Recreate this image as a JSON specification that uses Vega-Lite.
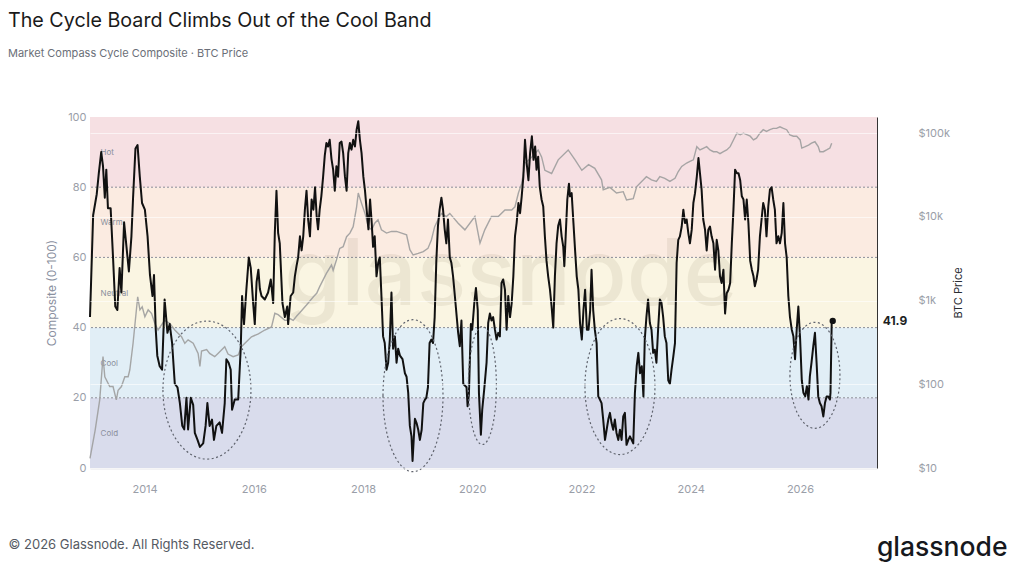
{
  "$schema": "https://vega.github.io/schema/vega-lite/v6.json",
  "width": 787,
  "height": 351,
  "autosize": "none",
  "padding": {"left": 90, "top": 117, "right": 137, "bottom": 97},
  "background": "#ffffff",
  "title": {
    "text": "The Cycle Board Climbs Out of the Cool Band",
    "subtitle": "Market Compass Cycle Composite · BTC Price",
    "anchor": "start",
    "frame": "group",
    "dx": -82,
    "offset": 52,
    "font": "Inter",
    "fontSize": 19.7,
    "fontWeight": 400,
    "color": "#1a1a1a",
    "subtitleFont": "Inter",
    "subtitleFontSize": 11,
    "subtitleColor": "#6b6f78",
    "subtitlePadding": 17
  },
  "datasets": {
    "bands": [
      {"band": "Cold", "lo": 0, "hi": 20},
      {"band": "Cool", "lo": 20, "hi": 40},
      {"band": "Neutral", "lo": 40, "hi": 60},
      {"band": "Warm", "lo": 60, "hi": 80},
      {"band": "Hot", "lo": 80, "hi": 100}
    ],
    "zones": [
      {"zone": "2015", "date": "2015-02-22", "score": 22.2},
      {"zone": "2018", "date": "2018-12-01", "score": 20.6},
      {"zone": "2020", "date": "2020-03-09", "score": 23.5},
      {"zone": "2022", "date": "2022-09-15", "score": 23.2},
      {"zone": "2026", "date": "2026-04-11", "score": 26.4}
    ],
    "latest": [
      {"date": "2026-08-08", "score": 41.9}
    ],
    "composite": [
      {"date": "2013-01-01", "score": 43},
      {"date": "2013-01-22", "score": 72},
      {"date": "2013-02-15", "score": 78},
      {"date": "2013-03-01", "score": 84},
      {"date": "2013-03-17", "score": 90},
      {"date": "2013-03-29", "score": 86},
      {"date": "2013-04-10", "score": 77},
      {"date": "2013-04-20", "score": 85},
      {"date": "2013-05-01", "score": 74},
      {"date": "2013-05-19", "score": 74},
      {"date": "2013-06-04", "score": 60},
      {"date": "2013-06-19", "score": 46},
      {"date": "2013-07-03", "score": 45},
      {"date": "2013-07-18", "score": 57},
      {"date": "2013-07-30", "score": 50},
      {"date": "2013-08-17", "score": 70},
      {"date": "2013-09-02", "score": 63},
      {"date": "2013-09-18", "score": 56},
      {"date": "2013-10-05", "score": 66},
      {"date": "2013-10-16", "score": 77},
      {"date": "2013-11-01", "score": 91},
      {"date": "2013-11-15", "score": 92},
      {"date": "2013-11-30", "score": 83},
      {"date": "2013-12-15", "score": 75.5},
      {"date": "2014-01-03", "score": 73.6},
      {"date": "2014-01-21", "score": 66},
      {"date": "2014-02-06", "score": 55},
      {"date": "2014-02-23", "score": 49},
      {"date": "2014-03-05", "score": 55},
      {"date": "2014-03-16", "score": 40},
      {"date": "2014-03-27", "score": 32},
      {"date": "2014-04-12", "score": 29},
      {"date": "2014-04-28", "score": 28},
      {"date": "2014-05-15", "score": 48},
      {"date": "2014-06-03", "score": 38.5},
      {"date": "2014-06-18", "score": 41},
      {"date": "2014-07-04", "score": 35.6},
      {"date": "2014-07-22", "score": 24},
      {"date": "2014-08-09", "score": 23},
      {"date": "2014-08-25", "score": 18.5},
      {"date": "2014-09-10", "score": 12},
      {"date": "2014-09-23", "score": 11},
      {"date": "2014-10-08", "score": 20},
      {"date": "2014-10-19", "score": 11},
      {"date": "2014-11-06", "score": 20},
      {"date": "2014-11-22", "score": 18},
      {"date": "2014-12-03", "score": 10},
      {"date": "2014-12-21", "score": 8},
      {"date": "2015-01-06", "score": 6},
      {"date": "2015-01-28", "score": 7},
      {"date": "2015-02-13", "score": 12},
      {"date": "2015-02-25", "score": 18.5},
      {"date": "2015-03-12", "score": 12},
      {"date": "2015-03-28", "score": 13.8},
      {"date": "2015-04-10", "score": 8},
      {"date": "2015-04-26", "score": 12},
      {"date": "2015-05-18", "score": 13},
      {"date": "2015-06-03", "score": 10},
      {"date": "2015-06-21", "score": 18.5},
      {"date": "2015-07-02", "score": 31},
      {"date": "2015-07-17", "score": 30},
      {"date": "2015-07-31", "score": 28},
      {"date": "2015-08-09", "score": 16.6},
      {"date": "2015-08-27", "score": 19.5},
      {"date": "2015-09-19", "score": 19.5},
      {"date": "2015-10-06", "score": 34},
      {"date": "2015-10-15", "score": 49},
      {"date": "2015-10-28", "score": 41},
      {"date": "2015-11-13", "score": 51},
      {"date": "2015-11-29", "score": 60},
      {"date": "2015-12-12", "score": 57},
      {"date": "2015-12-28", "score": 47},
      {"date": "2016-01-08", "score": 41},
      {"date": "2016-01-20", "score": 53},
      {"date": "2016-02-01", "score": 56.5},
      {"date": "2016-02-11", "score": 51},
      {"date": "2016-02-22", "score": 49},
      {"date": "2016-03-15", "score": 48},
      {"date": "2016-04-06", "score": 50},
      {"date": "2016-04-24", "score": 53.7},
      {"date": "2016-05-10", "score": 47},
      {"date": "2016-05-21", "score": 67},
      {"date": "2016-06-01", "score": 79},
      {"date": "2016-06-12", "score": 67},
      {"date": "2016-06-23", "score": 64},
      {"date": "2016-07-11", "score": 47},
      {"date": "2016-07-27", "score": 43},
      {"date": "2016-08-12", "score": 46},
      {"date": "2016-08-18", "score": 41},
      {"date": "2016-09-04", "score": 49},
      {"date": "2016-09-21", "score": 50},
      {"date": "2016-10-02", "score": 54.6},
      {"date": "2016-10-13", "score": 57.5},
      {"date": "2016-10-24", "score": 60},
      {"date": "2016-11-05", "score": 66},
      {"date": "2016-11-16", "score": 62},
      {"date": "2016-11-27", "score": 66},
      {"date": "2016-12-08", "score": 73.6},
      {"date": "2016-12-19", "score": 79},
      {"date": "2016-12-30", "score": 70.7},
      {"date": "2017-01-11", "score": 66},
      {"date": "2017-01-22", "score": 76.5},
      {"date": "2017-02-03", "score": 73.6},
      {"date": "2017-02-14", "score": 80},
      {"date": "2017-02-25", "score": 71.6},
      {"date": "2017-03-06", "score": 68},
      {"date": "2017-03-17", "score": 73.6},
      {"date": "2017-03-28", "score": 77.4},
      {"date": "2017-04-09", "score": 83},
      {"date": "2017-04-20", "score": 89},
      {"date": "2017-05-01", "score": 92.6},
      {"date": "2017-05-12", "score": 91.6},
      {"date": "2017-05-23", "score": 93.5},
      {"date": "2017-06-04", "score": 88},
      {"date": "2017-06-15", "score": 85},
      {"date": "2017-06-26", "score": 79},
      {"date": "2017-07-07", "score": 86},
      {"date": "2017-07-18", "score": 83},
      {"date": "2017-07-29", "score": 92.6},
      {"date": "2017-08-10", "score": 93},
      {"date": "2017-08-21", "score": 89.7},
      {"date": "2017-09-02", "score": 83},
      {"date": "2017-09-13", "score": 79},
      {"date": "2017-09-24", "score": 89.7},
      {"date": "2017-10-05", "score": 92.6},
      {"date": "2017-10-16", "score": 90.7},
      {"date": "2017-10-27", "score": 93.5},
      {"date": "2017-11-08", "score": 91.6},
      {"date": "2017-11-19", "score": 96.4},
      {"date": "2017-11-30", "score": 98.8},
      {"date": "2017-12-11", "score": 93.5},
      {"date": "2017-12-22", "score": 89.7},
      {"date": "2018-01-03", "score": 83},
      {"date": "2018-01-14", "score": 79},
      {"date": "2018-01-25", "score": 73.6},
      {"date": "2018-02-06", "score": 68},
      {"date": "2018-02-17", "score": 76.5},
      {"date": "2018-02-28", "score": 69.8},
      {"date": "2018-03-09", "score": 63},
      {"date": "2018-03-20", "score": 66},
      {"date": "2018-04-01", "score": 54.6},
      {"date": "2018-04-12", "score": 58.4},
      {"date": "2018-04-23", "score": 60},
      {"date": "2018-05-04", "score": 49},
      {"date": "2018-05-15", "score": 37.5},
      {"date": "2018-05-26", "score": 35.6},
      {"date": "2018-06-07", "score": 28},
      {"date": "2018-06-18", "score": 30},
      {"date": "2018-06-29", "score": 36.6},
      {"date": "2018-07-10", "score": 50},
      {"date": "2018-07-21", "score": 34},
      {"date": "2018-08-02", "score": 37.5},
      {"date": "2018-08-13", "score": 30},
      {"date": "2018-08-24", "score": 34},
      {"date": "2018-09-05", "score": 32},
      {"date": "2018-09-22", "score": 31},
      {"date": "2018-10-08", "score": 27},
      {"date": "2018-10-19", "score": 26},
      {"date": "2018-10-30", "score": 21.4},
      {"date": "2018-11-10", "score": 12},
      {"date": "2018-11-21", "score": 9},
      {"date": "2018-11-28", "score": 2},
      {"date": "2018-12-07", "score": 9},
      {"date": "2018-12-14", "score": 14},
      {"date": "2018-12-25", "score": 12.8},
      {"date": "2019-01-05", "score": 10.9},
      {"date": "2019-01-16", "score": 8},
      {"date": "2019-01-28", "score": 10.9},
      {"date": "2019-02-08", "score": 18.5},
      {"date": "2019-02-19", "score": 19.5},
      {"date": "2019-02-28", "score": 20},
      {"date": "2019-03-11", "score": 23},
      {"date": "2019-03-22", "score": 35.6},
      {"date": "2019-04-03", "score": 36.6},
      {"date": "2019-04-14", "score": 35.6},
      {"date": "2019-04-25", "score": 43},
      {"date": "2019-05-06", "score": 59},
      {"date": "2019-05-17", "score": 69},
      {"date": "2019-05-28", "score": 73.6},
      {"date": "2019-06-09", "score": 77},
      {"date": "2019-06-20", "score": 73.6},
      {"date": "2019-07-01", "score": 68},
      {"date": "2019-07-12", "score": 64},
      {"date": "2019-07-23", "score": 70.8},
      {"date": "2019-08-04", "score": 60},
      {"date": "2019-08-15", "score": 58.4},
      {"date": "2019-08-26", "score": 54.6},
      {"date": "2019-09-07", "score": 49},
      {"date": "2019-09-29", "score": 38.5},
      {"date": "2019-10-10", "score": 34.7},
      {"date": "2019-10-21", "score": 42},
      {"date": "2019-11-02", "score": 24},
      {"date": "2019-11-24", "score": 23},
      {"date": "2019-12-01", "score": 17.6},
      {"date": "2019-12-10", "score": 21},
      {"date": "2019-12-23", "score": 41},
      {"date": "2020-01-01", "score": 39.4},
      {"date": "2020-01-15", "score": 47},
      {"date": "2020-01-26", "score": 51.3},
      {"date": "2020-02-07", "score": 45},
      {"date": "2020-02-15", "score": 21.4},
      {"date": "2020-02-28", "score": 9.5},
      {"date": "2020-03-08", "score": 16.6},
      {"date": "2020-03-21", "score": 22.3},
      {"date": "2020-04-06", "score": 30},
      {"date": "2020-04-17", "score": 41.3},
      {"date": "2020-04-28", "score": 44},
      {"date": "2020-05-09", "score": 42},
      {"date": "2020-05-20", "score": 43},
      {"date": "2020-06-01", "score": 39.4},
      {"date": "2020-06-12", "score": 36.6},
      {"date": "2020-06-23", "score": 38.5},
      {"date": "2020-07-04", "score": 37.5},
      {"date": "2020-07-15", "score": 52.7},
      {"date": "2020-07-26", "score": 53.7},
      {"date": "2020-08-07", "score": 50.8},
      {"date": "2020-08-18", "score": 39.4},
      {"date": "2020-08-29", "score": 49},
      {"date": "2020-09-10", "score": 43},
      {"date": "2020-09-21", "score": 47},
      {"date": "2020-10-02", "score": 54.6},
      {"date": "2020-10-13", "score": 66},
      {"date": "2020-10-24", "score": 69.8},
      {"date": "2020-11-05", "score": 75.5},
      {"date": "2020-11-16", "score": 72.6},
      {"date": "2020-11-27", "score": 77.4},
      {"date": "2020-12-08", "score": 83},
      {"date": "2020-12-19", "score": 93.5},
      {"date": "2020-12-30", "score": 86.9},
      {"date": "2021-01-11", "score": 82},
      {"date": "2021-01-22", "score": 89.7},
      {"date": "2021-02-03", "score": 94.5},
      {"date": "2021-02-14", "score": 87.8},
      {"date": "2021-02-25", "score": 91.6},
      {"date": "2021-03-06", "score": 85},
      {"date": "2021-03-17", "score": 88.7},
      {"date": "2021-03-28", "score": 80},
      {"date": "2021-04-09", "score": 76.5},
      {"date": "2021-04-20", "score": 74.5},
      {"date": "2021-05-01", "score": 66},
      {"date": "2021-05-12", "score": 59},
      {"date": "2021-05-23", "score": 54.6},
      {"date": "2021-06-04", "score": 50.8},
      {"date": "2021-06-15", "score": 46},
      {"date": "2021-06-26", "score": 40},
      {"date": "2021-07-07", "score": 54.6},
      {"date": "2021-07-18", "score": 64},
      {"date": "2021-07-29", "score": 69},
      {"date": "2021-08-10", "score": 70.8},
      {"date": "2021-08-21", "score": 66},
      {"date": "2021-09-01", "score": 63},
      {"date": "2021-09-08", "score": 57.5},
      {"date": "2021-09-17", "score": 66},
      {"date": "2021-09-28", "score": 76.5},
      {"date": "2021-10-09", "score": 81},
      {"date": "2021-10-16", "score": 77.4},
      {"date": "2021-10-27", "score": 78.3},
      {"date": "2021-11-08", "score": 69.8},
      {"date": "2021-11-19", "score": 62},
      {"date": "2021-11-30", "score": 54.6},
      {"date": "2021-12-11", "score": 50.8},
      {"date": "2021-12-22", "score": 41.3},
      {"date": "2022-01-03", "score": 36.6},
      {"date": "2022-01-14", "score": 45},
      {"date": "2022-01-25", "score": 50.8},
      {"date": "2022-02-06", "score": 39.4},
      {"date": "2022-02-17", "score": 39.4},
      {"date": "2022-02-28", "score": 45},
      {"date": "2022-03-09", "score": 56.5},
      {"date": "2022-03-20", "score": 45},
      {"date": "2022-03-31", "score": 39.4},
      {"date": "2022-04-12", "score": 35.6},
      {"date": "2022-04-23", "score": 20.4},
      {"date": "2022-05-04", "score": 19.5},
      {"date": "2022-05-15", "score": 18.5},
      {"date": "2022-05-26", "score": 13.8},
      {"date": "2022-06-07", "score": 8},
      {"date": "2022-06-18", "score": 10.9},
      {"date": "2022-06-29", "score": 13.8},
      {"date": "2022-07-10", "score": 15.7},
      {"date": "2022-07-21", "score": 12.8},
      {"date": "2022-08-01", "score": 10.9},
      {"date": "2022-08-12", "score": 13.8},
      {"date": "2022-08-23", "score": 10},
      {"date": "2022-09-04", "score": 8},
      {"date": "2022-09-15", "score": 10.9},
      {"date": "2022-09-26", "score": 8},
      {"date": "2022-10-07", "score": 14.7},
      {"date": "2022-10-18", "score": 15.7},
      {"date": "2022-10-29", "score": 6.6},
      {"date": "2022-11-10", "score": 8},
      {"date": "2022-11-21", "score": 9},
      {"date": "2022-12-02", "score": 8},
      {"date": "2022-12-13", "score": 7},
      {"date": "2022-12-24", "score": 21.4},
      {"date": "2023-01-05", "score": 29},
      {"date": "2023-01-16", "score": 32.8},
      {"date": "2023-01-27", "score": 27},
      {"date": "2023-02-08", "score": 29},
      {"date": "2023-02-19", "score": 20.4},
      {"date": "2023-02-28", "score": 36.6},
      {"date": "2023-03-11", "score": 43},
      {"date": "2023-03-22", "score": 48},
      {"date": "2023-04-03", "score": 41.3},
      {"date": "2023-04-14", "score": 39.4},
      {"date": "2023-04-25", "score": 32.8},
      {"date": "2023-05-06", "score": 33.7},
      {"date": "2023-05-17", "score": 30},
      {"date": "2023-05-28", "score": 39.4},
      {"date": "2023-06-09", "score": 48},
      {"date": "2023-06-20", "score": 47},
      {"date": "2023-07-01", "score": 43},
      {"date": "2023-07-12", "score": 37.5},
      {"date": "2023-07-23", "score": 35.6},
      {"date": "2023-08-04", "score": 25},
      {"date": "2023-08-15", "score": 24},
      {"date": "2023-08-26", "score": 28},
      {"date": "2023-09-07", "score": 31.8},
      {"date": "2023-09-18", "score": 35.6},
      {"date": "2023-09-29", "score": 58.4},
      {"date": "2023-10-10", "score": 65},
      {"date": "2023-10-21", "score": 66},
      {"date": "2023-11-02", "score": 68.8},
      {"date": "2023-11-13", "score": 73.6},
      {"date": "2023-11-24", "score": 69.8},
      {"date": "2023-12-05", "score": 70.8},
      {"date": "2023-12-16", "score": 67},
      {"date": "2023-12-27", "score": 64},
      {"date": "2024-01-08", "score": 67.9},
      {"date": "2024-01-19", "score": 75.5},
      {"date": "2024-01-30", "score": 78.3},
      {"date": "2024-02-11", "score": 83},
      {"date": "2024-02-22", "score": 88.3},
      {"date": "2024-03-03", "score": 84},
      {"date": "2024-03-14", "score": 79.3},
      {"date": "2024-03-25", "score": 70.8},
      {"date": "2024-04-06", "score": 67.9},
      {"date": "2024-04-17", "score": 62},
      {"date": "2024-04-28", "score": 67.9},
      {"date": "2024-05-09", "score": 68.8},
      {"date": "2024-05-20", "score": 66},
      {"date": "2024-06-01", "score": 64},
      {"date": "2024-06-12", "score": 56.5},
      {"date": "2024-06-23", "score": 65},
      {"date": "2024-07-04", "score": 62},
      {"date": "2024-07-15", "score": 54.6},
      {"date": "2024-07-26", "score": 52.7},
      {"date": "2024-08-07", "score": 56.5},
      {"date": "2024-08-18", "score": 44},
      {"date": "2024-08-29", "score": 49.8},
      {"date": "2024-09-10", "score": 50.8},
      {"date": "2024-09-21", "score": 52.7},
      {"date": "2024-10-02", "score": 64},
      {"date": "2024-10-13", "score": 73.6},
      {"date": "2024-10-24", "score": 85},
      {"date": "2024-11-05", "score": 84},
      {"date": "2024-11-16", "score": 84},
      {"date": "2024-11-27", "score": 82},
      {"date": "2024-12-08", "score": 77.4},
      {"date": "2024-12-19", "score": 76.5},
      {"date": "2024-12-30", "score": 70.8},
      {"date": "2025-01-10", "score": 76.5},
      {"date": "2025-01-21", "score": 69.8},
      {"date": "2025-02-02", "score": 59},
      {"date": "2025-02-13", "score": 56.5},
      {"date": "2025-02-24", "score": 54.6},
      {"date": "2025-03-05", "score": 51.8},
      {"date": "2025-03-16", "score": 53.7},
      {"date": "2025-03-27", "score": 56.5},
      {"date": "2025-04-08", "score": 66},
      {"date": "2025-04-19", "score": 70.8},
      {"date": "2025-04-30", "score": 75.5},
      {"date": "2025-05-11", "score": 73.6},
      {"date": "2025-05-22", "score": 66},
      {"date": "2025-06-03", "score": 74.5},
      {"date": "2025-06-14", "score": 79.3},
      {"date": "2025-06-25", "score": 80},
      {"date": "2025-07-06", "score": 76.5},
      {"date": "2025-07-17", "score": 73.6},
      {"date": "2025-07-28", "score": 64},
      {"date": "2025-08-09", "score": 66},
      {"date": "2025-08-20", "score": 64},
      {"date": "2025-09-01", "score": 67},
      {"date": "2025-09-12", "score": 75.5},
      {"date": "2025-09-23", "score": 64},
      {"date": "2025-10-04", "score": 60},
      {"date": "2025-10-15", "score": 49},
      {"date": "2025-10-26", "score": 43},
      {"date": "2025-11-07", "score": 39.4},
      {"date": "2025-11-18", "score": 37.5},
      {"date": "2025-11-29", "score": 31},
      {"date": "2025-12-10", "score": 39.4},
      {"date": "2025-12-21", "score": 46},
      {"date": "2026-01-02", "score": 36.6},
      {"date": "2026-01-13", "score": 25},
      {"date": "2026-01-24", "score": 21.4},
      {"date": "2026-02-05", "score": 20.4},
      {"date": "2026-02-16", "score": 23.3},
      {"date": "2026-02-27", "score": 19.5},
      {"date": "2026-03-08", "score": 26.1},
      {"date": "2026-03-19", "score": 30},
      {"date": "2026-03-31", "score": 34.7},
      {"date": "2026-04-11", "score": 38.5},
      {"date": "2026-04-22", "score": 30},
      {"date": "2026-05-03", "score": 20.4},
      {"date": "2026-05-14", "score": 18.5},
      {"date": "2026-05-25", "score": 17.6},
      {"date": "2026-06-06", "score": 14.7},
      {"date": "2026-06-17", "score": 18.5},
      {"date": "2026-06-28", "score": 20.4},
      {"date": "2026-07-09", "score": 20.4},
      {"date": "2026-07-20", "score": 19.5},
      {"date": "2026-07-24", "score": 21.4},
      {"date": "2026-08-01", "score": 41.3},
      {"date": "2026-08-08", "score": 41.9}
    ],
    "btc": [
      {"date": "2013-01-01", "price": 13},
      {"date": "2013-02-04", "price": 28},
      {"date": "2013-03-07", "price": 65},
      {"date": "2013-03-29", "price": 214},
      {"date": "2013-04-10", "price": 123},
      {"date": "2013-05-13", "price": 94},
      {"date": "2013-06-04", "price": 94},
      {"date": "2013-06-26", "price": 65},
      {"date": "2013-07-08", "price": 85},
      {"date": "2013-07-30", "price": 94},
      {"date": "2013-08-22", "price": 123},
      {"date": "2013-09-13", "price": 123},
      {"date": "2013-09-24", "price": 148},
      {"date": "2013-10-16", "price": 309},
      {"date": "2013-11-16", "price": 1110},
      {"date": "2013-12-01", "price": 775},
      {"date": "2013-12-16", "price": 840},
      {"date": "2014-01-03", "price": 640},
      {"date": "2014-01-25", "price": 775},
      {"date": "2014-02-17", "price": 700},
      {"date": "2014-03-10", "price": 535},
      {"date": "2014-04-01", "price": 445},
      {"date": "2014-05-15", "price": 580},
      {"date": "2014-06-18", "price": 535},
      {"date": "2014-07-22", "price": 445},
      {"date": "2014-09-05", "price": 370},
      {"date": "2014-09-27", "price": 309},
      {"date": "2014-10-19", "price": 340},
      {"date": "2014-11-22", "price": 309},
      {"date": "2014-12-25", "price": 234},
      {"date": "2015-01-06", "price": 163},
      {"date": "2015-01-17", "price": 250},
      {"date": "2015-02-20", "price": 260},
      {"date": "2015-03-12", "price": 234},
      {"date": "2015-04-15", "price": 214},
      {"date": "2015-05-07", "price": 234},
      {"date": "2015-06-21", "price": 281},
      {"date": "2015-07-13", "price": 230},
      {"date": "2015-08-16", "price": 214},
      {"date": "2015-09-19", "price": 224},
      {"date": "2015-10-11", "price": 281},
      {"date": "2015-11-03", "price": 309},
      {"date": "2015-12-17", "price": 370},
      {"date": "2016-02-01", "price": 400},
      {"date": "2016-03-15", "price": 445},
      {"date": "2016-04-29", "price": 485},
      {"date": "2016-05-21", "price": 705},
      {"date": "2016-06-12", "price": 680},
      {"date": "2016-07-27", "price": 580},
      {"date": "2016-08-07", "price": 580},
      {"date": "2016-08-30", "price": 610},
      {"date": "2016-09-21", "price": 580},
      {"date": "2016-10-13", "price": 650},
      {"date": "2016-11-05", "price": 720},
      {"date": "2016-12-19", "price": 885},
      {"date": "2017-02-03", "price": 1110},
      {"date": "2017-02-25", "price": 1220},
      {"date": "2017-03-17", "price": 1466},
      {"date": "2017-05-01", "price": 2110},
      {"date": "2017-06-04", "price": 2660},
      {"date": "2017-06-15", "price": 2300},
      {"date": "2017-07-07", "price": 3050},
      {"date": "2017-07-29", "price": 4200},
      {"date": "2017-08-21", "price": 4400},
      {"date": "2017-09-13", "price": 5800},
      {"date": "2017-10-05", "price": 6400},
      {"date": "2017-10-27", "price": 7640},
      {"date": "2017-11-19", "price": 13200},
      {"date": "2017-11-30", "price": 19300},
      {"date": "2017-12-22", "price": 14500},
      {"date": "2018-01-14", "price": 11000},
      {"date": "2018-02-05", "price": 7640},
      {"date": "2018-02-28", "price": 7000},
      {"date": "2018-03-20", "price": 8400},
      {"date": "2018-04-11", "price": 9220},
      {"date": "2018-05-04", "price": 7000},
      {"date": "2018-06-07", "price": 6400},
      {"date": "2018-07-10", "price": 6700},
      {"date": "2018-08-13", "price": 6700},
      {"date": "2018-09-16", "price": 6400},
      {"date": "2018-10-19", "price": 6100},
      {"date": "2018-11-10", "price": 4050},
      {"date": "2018-12-02", "price": 3500},
      {"date": "2019-01-05", "price": 3660},
      {"date": "2019-02-08", "price": 3850},
      {"date": "2019-03-11", "price": 4200},
      {"date": "2019-04-03", "price": 5300},
      {"date": "2019-04-25", "price": 7640},
      {"date": "2019-05-17", "price": 9220},
      {"date": "2019-06-09", "price": 11000},
      {"date": "2019-07-12", "price": 10100},
      {"date": "2019-08-04", "price": 11000},
      {"date": "2019-09-29", "price": 8400},
      {"date": "2019-11-13", "price": 7000},
      {"date": "2020-01-19", "price": 10100},
      {"date": "2020-02-22", "price": 4860},
      {"date": "2020-03-25", "price": 7000},
      {"date": "2020-05-09", "price": 10100},
      {"date": "2020-06-23", "price": 10100},
      {"date": "2020-08-07", "price": 12100},
      {"date": "2020-09-21", "price": 12100},
      {"date": "2020-10-13", "price": 13200},
      {"date": "2020-11-05", "price": 19300},
      {"date": "2020-11-27", "price": 25100},
      {"date": "2020-12-19", "price": 43700},
      {"date": "2021-02-03", "price": 52000},
      {"date": "2021-03-17", "price": 63000},
      {"date": "2021-04-09", "price": 52000},
      {"date": "2021-05-01", "price": 36000},
      {"date": "2021-06-15", "price": 33000},
      {"date": "2021-07-29", "price": 48000},
      {"date": "2021-10-04", "price": 63000},
      {"date": "2021-11-19", "price": 48000},
      {"date": "2022-01-03", "price": 36000},
      {"date": "2022-02-17", "price": 42000},
      {"date": "2022-03-31", "price": 38000},
      {"date": "2022-05-15", "price": 27700},
      {"date": "2022-05-26", "price": 21100},
      {"date": "2022-07-10", "price": 22500},
      {"date": "2022-08-23", "price": 19300},
      {"date": "2022-10-07", "price": 20000},
      {"date": "2022-10-29", "price": 15900},
      {"date": "2022-12-13", "price": 16500},
      {"date": "2023-01-05", "price": 23000},
      {"date": "2023-02-19", "price": 27700},
      {"date": "2023-03-11", "price": 30200},
      {"date": "2023-04-14", "price": 27700},
      {"date": "2023-05-17", "price": 26500},
      {"date": "2023-06-09", "price": 30200},
      {"date": "2023-07-12", "price": 28900},
      {"date": "2023-08-15", "price": 26500},
      {"date": "2023-09-18", "price": 28900},
      {"date": "2023-10-10", "price": 34800},
      {"date": "2023-11-02", "price": 40000},
      {"date": "2023-12-05", "price": 44000},
      {"date": "2023-12-27", "price": 46000},
      {"date": "2024-01-19", "price": 48000},
      {"date": "2024-02-11", "price": 69000},
      {"date": "2024-03-03", "price": 63000},
      {"date": "2024-03-25", "price": 66000},
      {"date": "2024-04-17", "price": 69000},
      {"date": "2024-05-09", "price": 63000},
      {"date": "2024-06-01", "price": 60000},
      {"date": "2024-06-23", "price": 60000},
      {"date": "2024-07-15", "price": 57000},
      {"date": "2024-08-07", "price": 60000},
      {"date": "2024-08-29", "price": 63000},
      {"date": "2024-09-21", "price": 69000},
      {"date": "2024-10-13", "price": 83000},
      {"date": "2024-11-05", "price": 100000},
      {"date": "2024-11-27", "price": 96000},
      {"date": "2024-12-19", "price": 100000},
      {"date": "2025-01-10", "price": 96000},
      {"date": "2025-02-02", "price": 92000},
      {"date": "2025-02-24", "price": 83000},
      {"date": "2025-03-16", "price": 87000},
      {"date": "2025-04-08", "price": 100000},
      {"date": "2025-04-30", "price": 110000},
      {"date": "2025-05-22", "price": 105000},
      {"date": "2025-06-14", "price": 110000},
      {"date": "2025-07-06", "price": 114000},
      {"date": "2025-07-28", "price": 114000},
      {"date": "2025-08-20", "price": 119000},
      {"date": "2025-09-12", "price": 114000},
      {"date": "2025-10-04", "price": 110000},
      {"date": "2025-10-26", "price": 95000},
      {"date": "2025-11-18", "price": 92000},
      {"date": "2025-12-10", "price": 92000},
      {"date": "2026-01-02", "price": 83000},
      {"date": "2026-01-13", "price": 66400},
      {"date": "2026-02-05", "price": 69000},
      {"date": "2026-02-27", "price": 72000},
      {"date": "2026-03-19", "price": 76000},
      {"date": "2026-04-11", "price": 79000},
      {"date": "2026-05-03", "price": 69000},
      {"date": "2026-05-14", "price": 60000},
      {"date": "2026-06-06", "price": 60000},
      {"date": "2026-06-28", "price": 63000},
      {"date": "2026-07-20", "price": 66400},
      {"date": "2026-08-01", "price": 76000}
    ]
  },
  "layer": [
    {
      "layer": [
        {
          "data": {"name": "bands"},
          "mark": {"type": "rect", "opacity": 1},
          "encoding": {
            "y": {
              "field": "lo",
              "type": "quantitative",
              "scale": {"domain": [0, 100], "nice": false, "zero": true},
              "axis": {
                "orient": "left",
                "values": [0, 20, 40, 60, 80, 100],
                "domain": false,
                "ticks": false,
                "grid": false,
                "labelPadding": 4,
                "labelColor": "#9a9ea8",
                "labelFontSize": 11,
                "labelFont": "Inter",
                "title": "Composite (0-100)",
                "titleColor": "#8a90a0",
                "titleFont": "Inter",
                "titleFontSize": 12,
                "titleFontWeight": 400,
                "titlePadding": 9
              }
            },
            "y2": {"field": "hi"},
            "color": {
              "field": "band",
              "type": "nominal",
              "scale": {
                "domain": ["Cold", "Cool", "Neutral", "Warm", "Hot"],
                "range": ["#d9dcec", "#e1eef6", "#faf5e2", "#fbebe1", "#f6e0e3"]
              },
              "legend": null
            }
          }
        },
        {
          "data": {"name": "bands"},
          "transform": [{"filter": "datum.lo > 0"}],
          "mark": {"type": "rule", "color": "#8c8f99", "strokeDash": [2, 2], "strokeWidth": 1},
          "encoding": {
            "y": {"field": "lo", "type": "quantitative"}
          }
        },
        {
          "data": {"name": "bands"},
          "transform": [{"calculate": "(datum.lo + datum.hi) / 2", "as": "mid"}],
          "mark": {"type": "text", "align": "left", "baseline": "middle", "dy": 1, "font": "Inter", "fontSize": 8, "color": "#8a8f9c"},
          "encoding": {
            "x": {
              "datum": {"year": 2013, "month": 3, "date": 13},
              "type": "temporal",
              "scale": {"domain": [{"year": 2013, "month": 1, "date": 1}, {"year": 2027, "month": 5, "date": 31}]},
              "axis": {
                "orient": "bottom",
                "values": [{"year": 2014}, {"year": 2016}, {"year": 2018}, {"year": 2020}, {"year": 2022}, {"year": 2024}, {"year": 2026}],
                "format": "%Y",
                "ticks": false,
                "grid": false,
                "domain": true,
                "domainColor": "#e8e8ec",
                "domainWidth": 2,
                "labelPadding": 15,
                "labelColor": "#9a9ea8",
                "labelFontSize": 11,
                "labelFont": "Inter",
                "title": "© 2026 Glassnode. All Rights Reserved.",
                "titleX": -82,
                "titleY": 76,
                "titleAlign": "left",
                "titleBaseline": "middle",
                "titleFont": "Inter",
                "titleFontSize": 13,
                "titleFontWeight": 400,
                "titleColor": "#555a63"
              }
            },
            "y": {"field": "mid", "type": "quantitative"},
            "text": {"field": "band"}
          }
        },
        {
          "data": {"values": [{"brand": "glassnode"}]},
          "mark": {"type": "text", "align": "center", "baseline": "alphabetic", "font": "Inter", "fontSize": 92, "fontWeight": 500, "color": "#6b5a3a", "opacity": 0.09},
          "encoding": {
            "x": {"datum": {"year": 2020, "month": 9, "date": 16}, "type": "temporal"},
            "y": {"datum": 46.4, "type": "quantitative"},
            "text": {"field": "brand"}
          }
        }
      ]
    },
    {
      "data": {"name": "btc"},
      "mark": {"type": "line", "color": "#9d9d9d", "strokeWidth": 1.4, "opacity": 0.9},
      "encoding": {
        "x": {
          "field": "date",
          "type": "temporal",
          "scale": {"domain": [{"year": 2013, "month": 1, "date": 1}, {"year": 2027, "month": 5, "date": 31}]},
          "axis": {
            "orient": "top",
            "labels": false,
            "ticks": false,
            "domain": false,
            "grid": false,
            "title": "glassnode",
            "titleX": 917,
            "titleY": 438,
            "titleAlign": "right",
            "titleBaseline": "alphabetic",
            "titleFont": "Inter",
            "titleFontSize": 26.5,
            "titleFontWeight": 500,
            "titleColor": "#16181d"
          }
        },
        "y": {
          "field": "price",
          "type": "quantitative",
          "scale": {"type": "log", "domain": [10, 156000], "nice": false},
          "axis": {
            "orient": "right",
            "values": [10, 100, 1000, 10000, 100000],
            "labelExpr": "datum.value >= 1000 ? '$' + (datum.value / 1000) + 'k' : '$' + datum.value",
            "domain": true,
            "domainColor": "#333333",
            "domainWidth": 1,
            "ticks": false,
            "grid": true,
            "gridColor": "#ffffff",
            "gridOpacity": 0.6,
            "gridWidth": 1,
            "zindex": 1,
            "labelPadding": 41,
            "labelColor": "#9a9ea8",
            "labelFontSize": 11,
            "labelFont": "Inter",
            "title": "BTC Price",
            "titleAngle": 270,
            "titleColor": "#2a2d33",
            "titleFont": "Inter",
            "titleFontSize": 11,
            "titleFontWeight": 400,
            "titlePadding": 14
          }
        }
      }
    },
    {
      "layer": [
        {
          "data": {"name": "composite"},
          "mark": {"type": "line", "color": "#111111", "strokeWidth": 2, "strokeJoin": "round"},
          "encoding": {
            "x": {
              "field": "date",
              "type": "temporal",
              "scale": {"domain": [{"year": 2013, "month": 1, "date": 1}, {"year": 2027, "month": 5, "date": 31}]},
              "axis": null
            },
            "y": {
              "field": "score",
              "type": "quantitative",
              "scale": {"domain": [0, 100], "nice": false},
              "axis": null
            }
          }
        },
        {
          "data": {"name": "zones"},
          "mark": {"type": "point", "filled": false, "size": 4, "opacity": 1, "stroke": "#5f636d", "strokeWidth": 1.2, "strokeDash": [2, 2.5]},
          "encoding": {
            "x": {"field": "date", "type": "temporal"},
            "y": {"field": "score", "type": "quantitative"},
            "shape": {
              "field": "zone",
              "type": "nominal",
              "scale": {
                "domain": ["2015", "2018", "2020", "2022", "2026"],
                "range": [
                  "M-44,0A44,69 0 1,0 44,0A44,69 0 1,0 -44,0Z",
                  "M-30,0A30,76 0 1,0 30,0A30,76 0 1,0 -30,0Z",
                  "M-14,0A14,59 0 1,0 14,0A14,59 0 1,0 -14,0Z",
                  "M-35,0A35,68 0 1,0 35,0A35,68 0 1,0 -35,0Z",
                  "M-25,0A25,53 0 1,0 25,0A25,53 0 1,0 -25,0Z"
                ]
              },
              "legend": null
            }
          }
        },
        {
          "data": {"name": "latest"},
          "mark": {"type": "point", "filled": true, "size": 40, "color": "#111111", "opacity": 1},
          "encoding": {
            "x": {"field": "date", "type": "temporal"},
            "y": {"field": "score", "type": "quantitative"}
          }
        },
        {
          "data": {"name": "latest"},
          "mark": {"type": "text", "align": "left", "baseline": "middle", "dx": 50, "font": "Inter", "fontSize": 12, "fontWeight": 700, "color": "#1d1f24"},
          "encoding": {
            "x": {"field": "date", "type": "temporal"},
            "y": {"field": "score", "type": "quantitative"},
            "text": {"field": "score", "type": "quantitative", "format": ".1f"}
          }
        }
      ]
    }
  ],
  "resolve": {
    "scale": {"y": "independent"},
    "axis": {"x": "independent", "y": "independent"}
  },
  "config": {
    "view": {"stroke": null},
    "font": "Inter"
  }
}
